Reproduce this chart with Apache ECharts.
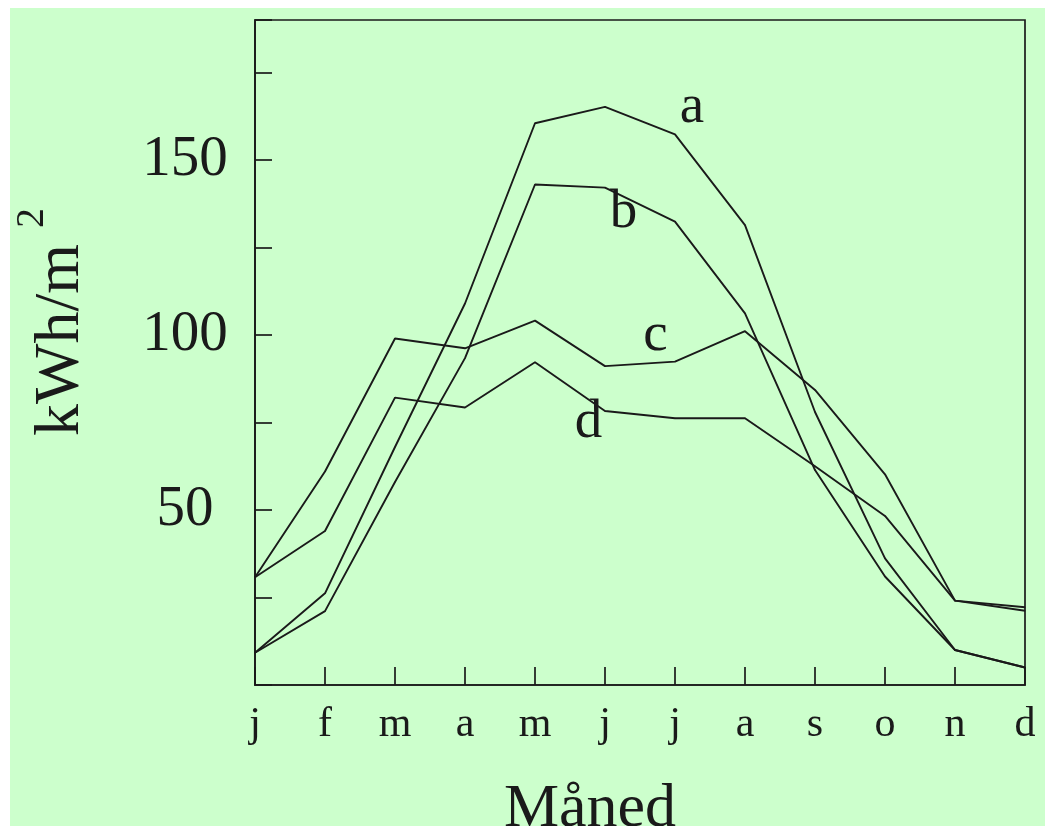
<!DOCTYPE html>
<html>
<head>
<meta charset="utf-8">
<script src="https://cdn.jsdelivr.net/npm/echarts@6/dist/echarts.min.js"></script>
<style>
  html, body { margin: 0; padding: 0; background: #ffffff; }
  #bg { position: absolute; left: 10px; top: 8px; width: 1035px; height: 818px; background: #ccffcc; }
  #chart { position: absolute; left: 0; top: 0; width: 1045px; height: 826px; }
</style>
</head>
<body>
<div id="bg"></div>
<div id="chart"></div>
<script>
const months = ['j', 'f', 'm', 'a', 'm', 'j', 'j', 'a', 's', 'o', 'n', 'd'];
const seriesA = [9.2, 26.2, 68, 109, 160.5, 165.2, 157.3, 131.4, 78, 36.2, 10, 5];
const seriesB = [9.2, 21.1, 58, 93.4, 143, 142.1, 132.4, 106.2, 61.4, 31, 10, 5];
const seriesC = [30.8, 61, 99, 96.2, 104.1, 91.1, 92.4, 101.1, 84.3, 60.2, 24.1, 22.2];
const seriesD = [30.8, 44, 82.1, 79.3, 92.2, 78.3, 76.2, 76.2, 62.5, 48.3, 24.1, 21.2];
const yTickLabels = [50, 100, 150];
const seriesNames = ['a', 'b', 'c', 'd'];

const FONT = 'Liberation Serif';
const INK = '#1a1a1a';

function withLabel(values, idx, text, offset) {
  return values.map((v, i) => i === idx ? {
    value: v,
    label: {
      show: true, formatter: text, position: 'inside', offset: offset,
      fontFamily: FONT, fontSize: 55, color: INK
    }
  } : v);
}

function lineSeries(name, data) {
  return {
    name: name, type: 'line', data: data,
    symbol: 'circle', symbolSize: 1, showSymbol: true,
    itemStyle: { color: INK },
    lineStyle: { color: INK, width: 1.9 },
    silent: true, z: 3
  };
}

const chart = echarts.init(document.getElementById('chart'), null, { renderer: 'canvas' });
chart.setOption({
  animation: false,
  backgroundColor: 'transparent',
  grid: { left: 255, top: 20, right: 20, bottom: 141, show: true, borderColor: INK, borderWidth: 1.7, backgroundColor: 'transparent' },
  xAxis: {
    type: 'category', data: months, boundaryGap: false,
    axisLine: { show: true, lineStyle: { color: INK, width: 1.7 } },
    axisTick: { show: true, inside: true, length: 18, interval: 0, lineStyle: { color: INK, width: 1.7 } },
    axisLabel: { interval: 0, margin: 19, fontFamily: FONT, fontSize: 42, color: INK },
    splitLine: { show: false }
  },
  yAxis: {
    type: 'value', min: 0, max: 190, interval: 25,
    axisLine: { show: true, lineStyle: { color: INK, width: 1.7 } },
    axisTick: { show: true, inside: true, length: 17, lineStyle: { color: INK, width: 1.7 } },
    axisLabel: {
      margin: 70, align: 'center', fontFamily: FONT, fontSize: 57, color: INK,
      formatter: v => yTickLabels.indexOf(v) >= 0 ? String(v) : ''
    },
    splitLine: { show: false }
  },
  graphic: [
    { type: 'text', x: 590, y: 810, silent: true,
      style: { text: 'Måned', fontFamily: FONT, fontSize: 62, fill: INK, align: 'center', verticalAlign: 'middle' } },
    { type: 'text', x: 61, y: 340, rotation: Math.PI / 2, silent: true,
      style: { text: 'kWh/m', fontFamily: FONT, fontSize: 64, fill: INK, align: 'center', verticalAlign: 'middle' } },
    { type: 'text', x: 32, y: 218, rotation: Math.PI / 2, silent: true,
      style: { text: '2', fontFamily: FONT, fontSize: 40, fill: INK, align: 'center', verticalAlign: 'middle' } }
  ],
  series: [
    lineSeries(seriesNames[0], withLabel(seriesA, 6, 'a', [17, -27])),
    lineSeries(seriesNames[1], withLabel(seriesB, 5, 'b', [18.5, 24.7])),
    lineSeries(seriesNames[2], withLabel(seriesC, 6, 'c', [-19.5, -26.2])),
    lineSeries(seriesNames[3], withLabel(seriesD, 5, 'd', [-16.5, 11.5]))
  ]
});
</script>
</body>
</html>
